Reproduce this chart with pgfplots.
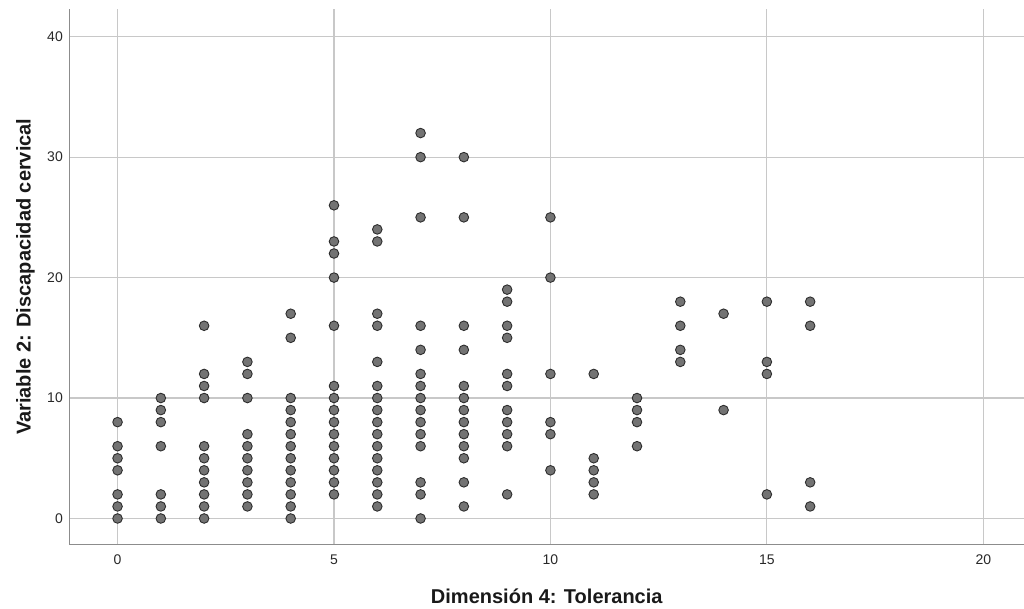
\documentclass[border=0pt]{standalone}
\usepackage{fontspec}
\setmainfont{Liberation Sans}
\usepackage{pgfplots}
\pgfplotsset{compat=1.18}
\usepackage{pgfplotstable}
\definecolor{gridc}{RGB}{200,200,200}
\definecolor{axisc}{RGB}{140,140,140}
\definecolor{markf}{RGB}{115,115,115}
\definecolor{markd}{RGB}{45,45,45}
\definecolor{txt}{RGB}{40,40,40}

\pgfplotstableread{
x y
0 0
0 1
0 2
0 4
0 5
0 6
0 8
1 0
1 1
1 2
1 6
1 8
1 9
1 10
2 0
2 1
2 2
2 3
2 4
2 5
2 6
2 10
2 11
2 12
2 16
3 1
3 2
3 3
3 4
3 5
3 6
3 7
3 10
3 12
3 13
4 0
4 1
4 2
4 3
4 4
4 5
4 6
4 7
4 8
4 9
4 10
4 15
4 17
5 2
5 3
5 4
5 5
5 6
5 7
5 8
5 9
5 10
5 11
5 16
5 20
5 22
5 23
5 26
6 1
6 2
6 3
6 4
6 5
6 6
6 7
6 8
6 9
6 10
6 11
6 13
6 16
6 17
6 23
6 24
7 0
7 2
7 3
7 6
7 7
7 8
7 9
7 10
7 11
7 12
7 14
7 16
7 25
7 30
7 32
8 1
8 3
8 5
8 6
8 7
8 8
8 9
8 10
8 11
8 14
8 16
8 25
8 30
9 2
9 6
9 7
9 8
9 9
9 11
9 12
9 15
9 16
9 18
9 19
10 4
10 7
10 8
10 12
10 20
10 25
11 2
11 3
11 4
11 5
11 12
12 6
12 8
12 9
12 10
13 13
13 14
13 16
13 18
14 9
14 17
15 2
15 12
15 13
15 18
16 1
16 3
16 16
16 18
}\scatterdata

\begin{document}
\begin{tikzpicture}
\begin{axis}[
  scale only axis,
  width=954.5pt, height=535.5pt,
  xmin=-1.11, xmax=20.94,
  ymin=-2.16, ymax=42.3,
  xtick={0,5,10,15,20},
  ytick={0,10,20,30,40},
  axis x line*=bottom,
  axis y line*=left,
  axis line style={axisc, line width=1.8pt, -},
  major tick length=0pt,
  grid=major,
  major grid style={gridc, line width=1.1pt},
  /pgf/number format/assume math mode=true,
  tick label style={font=\fontsize{14}{16}\selectfont, text=txt},
  xticklabel style={anchor=base, yshift=-20.5pt},
  yticklabel style={anchor=east, inner sep=0pt, xshift=-6.5pt},
  xlabel={Dimensión 4: Tolerancia},
  ylabel={Variable 2: Discapacidad cervical},
  label style={font=\bfseries\fontsize{20}{22}\selectfont, text=black!90},
  xlabel style={at={(axis description cs:0.5,-0.0971)}, anchor=center},
  ylabel style={at={(axis description cs:-0.0461,0.5)}, anchor=center, rotate=0},
  clip=false,
]
\addplot[only marks, mark=*, mark size=4.8pt,
  mark options={fill=markf, draw=markd, line width=0.9pt}]
  table[x=x, y=y] {\scatterdata};
\end{axis}
\pgfresetboundingbox
\useasboundingbox (-69.5pt,-64.5pt) rectangle (954.5pt,544.5pt);
\end{tikzpicture}
\end{document}
